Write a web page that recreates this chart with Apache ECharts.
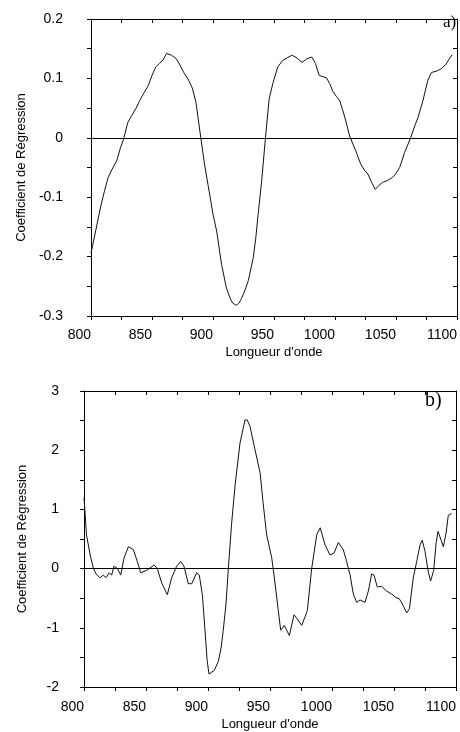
<!DOCTYPE html>
<html>
<head>
<meta charset="utf-8">
<script src="https://cdn.jsdelivr.net/npm/echarts@6/dist/echarts.min.js"></script>
<style>
  html, body { margin: 0; padding: 0; background: #fff; }
  #container { width: 460px; height: 732px; }
</style>
</head>
<body>
<div id="container"></div>
<script>
// panel a) : longueur d'onde / coefficient
var wlA = [800, 804, 808, 811, 814, 818, 821, 824, 827, 830, 833, 837, 840, 843, 847, 850, 853, 856, 859, 862,
  866, 870, 873, 876, 880, 883, 886, 888, 890, 893, 896, 900, 903, 907, 911, 914, 916, 919, 921, 923,
  926, 929, 933, 935, 937, 940, 943, 946, 949, 953, 957, 961, 965, 969, 973, 977, 981, 984, 987, 990,
  993, 996, 998, 1001, 1004, 1008, 1012, 1017, 1021, 1024, 1027, 1030, 1033, 1036, 1039, 1043, 1047, 1050, 1053, 1057,
  1060, 1062, 1065, 1068, 1072, 1076, 1079, 1083, 1087, 1091, 1094, 1096];
var coefA = [-0.194, -0.155, -0.115, -0.09, -0.067, -0.05, -0.039, -0.018, 0.0, 0.025, 0.036, 0.05, 0.063, 0.074, 0.088, 0.105, 0.119, 0.125, 0.131, 0.142,
  0.139, 0.133, 0.122, 0.110, 0.097, 0.084, 0.060, 0.03, 0.0, -0.044, -0.08, -0.129, -0.157, -0.213, -0.253, -0.270, -0.278, -0.282, -0.279, -0.272,
  -0.258, -0.240, -0.202, -0.17, -0.129, -0.07, 0.0, 0.065, 0.091, 0.119, 0.130, 0.135, 0.139, 0.134, 0.127, 0.133, 0.136, 0.125, 0.105, 0.103,
  0.101, 0.09, 0.079, 0.070, 0.062, 0.035, 0.003, -0.022, -0.044, -0.054, -0.061, -0.075, -0.087, -0.08, -0.075, -0.072, -0.067, -0.060, -0.050, -0.025,
  -0.01, 0.0, 0.018, 0.034, 0.062, 0.096, 0.110, 0.112, 0.116, 0.124, 0.134, 0.140];

// panel b)
var wlB = [800, 801, 802, 805, 807.5, 809.7, 813, 815.6, 817.7, 820.4, 822.3, 824.2, 827, 829.6, 832.3, 835.8, 839.8, 843, 845.7, 850.5,
  856.4, 859, 862.6, 867.2, 870.7, 874.7, 878, 880.6, 884.1, 886.9, 890.9, 893, 895.5, 897.6, 899.3, 900.8, 902.2, 905, 908.3, 910.5,
  912.3, 914.5, 916.4, 919, 921.8, 925.8, 929.8, 931.7, 933.9, 937.9, 942, 944.5, 947.3, 951.4, 953.2, 956.7, 958.6, 961.5, 965.6, 969.4,
  972, 975.6, 980.1, 983.6, 987.7, 990.5, 994.4, 998.4, 1001.6, 1005.1, 1009.1, 1011.8, 1014.5, 1017.2, 1019.9, 1022.6, 1026.6, 1029.3, 1032, 1033.9,
  1036.5, 1040, 1044.1, 1048.2, 1051.6, 1054.3, 1057.5, 1060.2, 1062.4, 1065.6, 1068.3, 1071, 1072.8, 1075, 1077.7, 1079.5, 1082, 1084, 1085.5, 1087,
  1089.8, 1092, 1093.8, 1096.5];
var coefB = [1.20, 0.90, 0.57, 0.23, 0.01, -0.09, -0.155, -0.11, -0.155, -0.07, -0.11, 0.04, 0.0, -0.11, 0.18, 0.37, 0.32, 0.12, -0.07, -0.03,
  0.06, 0.01, -0.24, -0.44, -0.155, 0.04, 0.12, 0.04, -0.255, -0.255, -0.07, -0.11, -0.45, -1.05, -1.55, -1.78, -1.79, -1.72, -1.57, -1.35,
  -1.04, -0.6, 0.0, 0.75, 1.40, 2.12, 2.51, 2.51, 2.40, 2.01, 1.62, 1.1, 0.57, 0.18, -0.10, -0.71, -1.04, -0.96, -1.13, -0.78,
  -0.85, -0.96, -0.71, 0.0, 0.57, 0.69, 0.40, 0.23, 0.26, 0.44, 0.32, 0.12, -0.10, -0.43, -0.57, -0.53, -0.57, -0.38, -0.09, -0.11,
  -0.31, -0.30, -0.38, -0.43, -0.49, -0.51, -0.63, -0.75, -0.68, -0.15, 0.12, 0.40, 0.48, 0.29, -0.06, -0.21, -0.03, 0.44, 0.63, 0.62,
  0.37, 0.6, 0.9, 0.93];

var xTicks = { min: 800, max: 1100, interval: 50 };
var yTicksA = { min: -0.3, max: 0.2, interval: 0.1 };
var yTicksB = { min: -2, max: 3, interval: 1 };

function pairs(xs, ys) {
  return xs.map(function (x, i) { return [x, ys[i]]; });
}

var fontSans = 'Liberation Sans, Arial, sans-serif';

function makeX(grid, ticks, inside, labelMargin, nameGap) {
  return {
    type: 'value',
    gridIndex: grid,
    min: ticks.min, max: ticks.max, interval: ticks.interval,
    name: inside ? '' : "Longueur d'onde",
    nameLocation: 'middle',
    nameGap: nameGap,
    nameTextStyle: { color: '#000', fontSize: 13, fontFamily: fontSans },
    axisLine: { show: true, onZero: false, lineStyle: { color: '#000', width: 1 } },
    axisTick: { show: true, inside: inside, length: 4, lineStyle: { color: '#000' } },
    minorTick: { show: true, splitNumber: 2, length: 4, lineStyle: { color: '#000' } },
    axisLabel: {
      show: !inside, color: '#000', fontSize: 14, fontFamily: fontSans,
      margin: labelMargin, align: 'right',
      formatter: function (v) { return String(v); }
    },
    splitLine: { show: false }
  };
}

function makeY(grid, ticks, inside, labelMargin, nameGap) {
  return {
    type: 'value',
    gridIndex: grid,
    min: ticks.min, max: ticks.max, interval: ticks.interval,
    name: inside ? '' : 'Coefficient de Régression',
    nameLocation: 'middle',
    nameGap: nameGap,
    nameTextStyle: { color: '#000', fontSize: 13, fontFamily: fontSans },
    axisLine: { show: true, onZero: false, lineStyle: { color: '#000', width: 1 } },
    axisTick: { show: true, inside: inside, length: 4, lineStyle: { color: '#000' } },
    minorTick: { show: true, splitNumber: 2, length: 4, lineStyle: { color: '#000' } },
    axisLabel: {
      show: !inside, color: '#000', fontSize: 14, fontFamily: fontSans,
      margin: labelMargin
    },
    splitLine: { show: false }
  };
}

function zeroLine() {
  return {
    silent: true,
    symbol: ['none', 'none'],
    label: { show: false },
    lineStyle: { color: '#000', width: 1, type: 'solid' },
    data: [{ yAxis: 0 }]
  };
}

var myChart = echarts.init(document.getElementById('container'));
var option = {
  animation: false,
  backgroundColor: '#fff',
  grid: [
    { left: 91, top: 19, width: 367, height: 297 },
    { left: 84, top: 391, width: 372, height: 300 }
  ],
  xAxis: [
    makeX(0, xTicks, false, 12, 30),
    makeX(0, xTicks, true, 12, 30),
    makeX(1, xTicks, false, 13, 31),
    makeX(1, xTicks, true, 13, 31)
  ],
  yAxis: [
    makeY(0, yTicksA, false, 28, 62),
    makeY(0, yTicksA, true, 28, 62),
    makeY(1, yTicksB, false, 25, 55),
    makeY(1, yTicksB, true, 25, 55)
  ],
  graphic: [
    { type: 'text', left: 443, top: 14, style: { text: 'a)', fill: '#000', font: '17px "Liberation Serif", serif' } },
    { type: 'text', left: 425, top: 391, style: { text: 'b)', fill: '#000', font: '20px "Liberation Serif", serif' } }
  ],
  series: [
    {
      type: 'line',
      xAxisIndex: 0, yAxisIndex: 0,
      data: pairs(wlA, coefA),
      showSymbol: false,
      smooth: false,
      lineStyle: { color: '#111', width: 1 },
      markLine: zeroLine()
    },
    {
      type: 'line',
      xAxisIndex: 2, yAxisIndex: 2,
      data: pairs(wlB, coefB),
      showSymbol: false,
      smooth: false,
      lineStyle: { color: '#111', width: 1 },
      markLine: zeroLine()
    }
  ]
};
myChart.setOption(option);
</script>
</body>
</html>
